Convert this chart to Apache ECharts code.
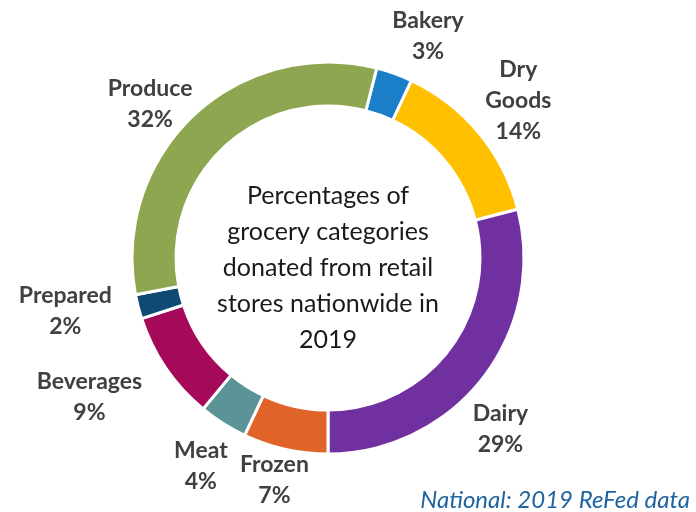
<!DOCTYPE html>
<html>
<head>
<meta charset="utf-8">
<script src="https://cdn.jsdelivr.net/npm/echarts@6/dist/echarts.min.js"></script>
<style>
  html, body { margin: 0; padding: 0; background: #fff; }
  #main { width: 696px; height: 512px; }
</style>
</head>
<body>
<div id="main"></div>
<script>
// 数据
const categories = ["Bakery", "Dry Goods", "Dairy", "Frozen", "Meat", "Beverages", "Prepared", "Produce"];
const labelNames = ["Bakery", "Dry\nGoods", "Dairy", "Frozen", "Meat", "Beverages", "Prepared", "Produce"];
const percents = [3, 14, 29, 7, 4, 9, 2, 32];
const colors = ["#1a7ec8", "#ffc000", "#7030a0", "#e0642a", "#5b9396", "#a50a5a", "#0f4a73", "#8ea64f"];

// 标签位置微调：[角度偏移, 距圆心半径]
const labelNudge = [[4.5, 243], [0, 247], [7, 243], [1, 228], [-1, 244], [4, 276], [3, 268], [-6, 235]];

const cx = 328, cy = 258;
const startAngle = 75.6;

// 计算每个扇区中线角度（从正上方顺时针）
const total = percents.reduce((a, b) => a + b, 0);
const midAngles = [];
let acc = 90 - startAngle;
percents.forEach(v => {
  const span = v / total * 360;
  midAngles.push(acc + span / 2);
  acc += span;
});

const mychart = echarts.init(document.getElementById("main"));
mychart.setOption({
  backgroundColor: "#fff",
  color: colors,
  animation: false,
  series: [
    {
      type: "pie",
      center: [cx, cy],
      radius: [152, 196],
      startAngle: startAngle,
      clockwise: true,
      itemStyle: { borderColor: "#fff", borderWidth: 3 },
      label: {
        show: true,
        position: "outside",
        formatter: p => labelNames[p.dataIndex] + "\n" + p.value + "%",
        fontFamily: "Lato",
        fontWeight: "bold",
        fontSize: 23,
        lineHeight: 31,
        color: "#404040",
        align: "center",
        overflow: "none",
        width: 200
      },
      labelLine: { show: false },
      labelLayout: params => {
        const i = params.dataIndex;
        const a = (midAngles[i] + labelNudge[i][0]) * Math.PI / 180;
        const r = labelNudge[i][1];
        return {
          x: cx + r * Math.sin(a),
          y: cy - r * Math.cos(a),
          align: "center",
          verticalAlign: "middle",
          hideOverlap: false
        };
      },
      emphasis: { disabled: true },
      data: categories.map((c, i) => ({ name: c, value: percents[i] }))
    }
  ],
  graphic: [
    {
      type: "text",
      x: cx,
      y: 268,
      style: {
        text: "Percentages of\ngrocery categories\ndonated from retail\nstores nationwide in\n2019",
        fontFamily: "Lato",
        fontSize: 25,
        lineHeight: 36,
        fill: "#1a1a1a",
        align: "center",
        verticalAlign: "middle"
      }
    },
    {
      type: "text",
      x: 690,
      y: 500,
      style: {
        text: "National: 2019 ReFed data",
        fontFamily: "Lato",
        fontStyle: "italic",
        fontSize: 24,
        fill: "#1f64a0",
        align: "right",
        verticalAlign: "middle"
      }
    }
  ]
});
</script>
</body>
</html>
